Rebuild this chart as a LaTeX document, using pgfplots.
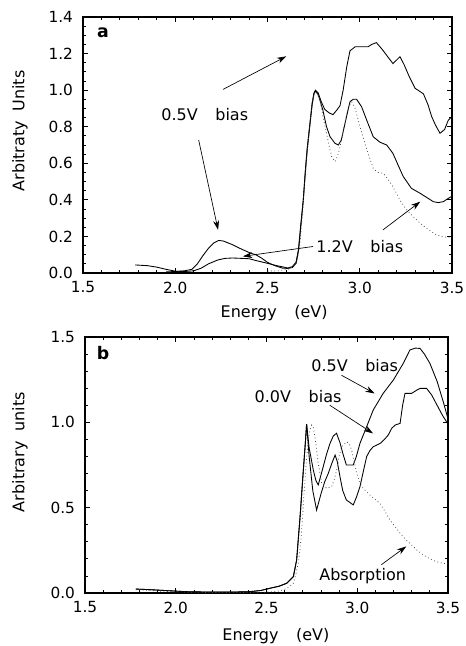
\documentclass[border=0pt]{standalone}
\usepackage{pgfplots}
\pgfplotsset{compat=1.18}
\usepackage{fontspec}
\setmainfont{DejaVu Sans}
\usetikzlibrary{arrows.meta}

\pgfplotstableread{
x y
1.95 0.006
2.00 0.008
2.05 0.012
2.09 0.02
2.12 0.05
2.15 0.095
2.18 0.135
2.21 0.165
2.235 0.178
2.26 0.175
2.29 0.163
2.31 0.155
2.35 0.135
2.40 0.112
2.44 0.098
2.47 0.08
2.50 0.058
2.54 0.04
2.58 0.027
2.61 0.025
2.635 0.03
2.655 0.053
2.668 0.12
2.68 0.25
2.694 0.40
2.705 0.56
2.715 0.68
2.73 0.82
2.742 0.93
2.752 0.985
2.76 1.0
2.775 0.985
2.79 0.94
2.81 0.895
2.835 0.875
2.855 0.866
2.875 0.89
2.893 0.915
2.91 1.0
2.93 1.13
2.947 1.215
2.975 1.237
3.01 1.237
3.045 1.237
3.065 1.25
3.09 1.26
3.12 1.225
3.15 1.185
3.18 1.145
3.2 1.165
3.218 1.183
3.24 1.14
3.27 1.07
3.30 1.01
3.345 0.98
3.37 0.92
3.39 0.855
3.41 0.81
3.435 0.764
3.46 0.785
3.48 0.836
3.5 0.855
}\aFive

\pgfplotstableread{
x y
1.782 0.044
1.85 0.04
1.90 0.032
1.95 0.02
2.00 0.01
2.05 0.008
2.10 0.012
2.14 0.026
2.18 0.05
2.23 0.071
2.27 0.08
2.31 0.082
2.36 0.08
2.40 0.078
2.45 0.065
2.50 0.053
2.55 0.04
2.585 0.033
2.61 0.027
2.635 0.035
2.655 0.06
2.668 0.13
2.68 0.26
2.694 0.40
2.705 0.55
2.715 0.67
2.73 0.81
2.742 0.92
2.752 0.98
2.76 0.995
2.775 0.975
2.80 0.891
2.82 0.80
2.839 0.745
2.866 0.709
2.884 0.70
2.90 0.727
2.925 0.84
2.947 0.937
2.965 0.95
2.983 0.95
3.01 0.909
3.04 0.83
3.073 0.745
3.11 0.715
3.146 0.70
3.18 0.654
3.21 0.585
3.236 0.527
3.28 0.463
3.327 0.436
3.36 0.415
3.399 0.39
3.425 0.385
3.453 0.39
3.475 0.405
3.5 0.42
}\aTwelve

\pgfplotstableread{
x y
2.50 0.01
2.56 0.012
2.61 0.02
2.64 0.035
2.66 0.07
2.675 0.15
2.69 0.33
2.705 0.53
2.72 0.72
2.735 0.87
2.748 0.96
2.758 0.99
2.77 0.98
2.785 0.946
2.80 0.86
2.82 0.764
2.835 0.69
2.848 0.636
2.866 0.609
2.88 0.64
2.893 0.69
2.915 0.80
2.938 0.909
2.956 0.937
2.975 0.9
2.992 0.836
3.01 0.77
3.028 0.709
3.05 0.64
3.073 0.572
3.1 0.55
3.128 0.545
3.155 0.51
3.18 0.472
3.218 0.399
3.25 0.35
3.29 0.308
3.33 0.27
3.363 0.244
3.39 0.225
3.417 0.208
3.45 0.198
3.48 0.195
3.5 0.195
}\aAbs

\pgfplotstableread{
x y
1.78 0.023
1.85 0.02
1.95 0.014
2.05 0.008
2.2 0.005
2.3 0.005
2.41 0.008
2.47 0.015
2.52 0.028
2.57 0.04
2.611 0.057
2.648 0.096
2.666 0.193
2.685 0.447
2.703 0.72
2.714 0.88
2.721 0.99
2.735 0.85
2.758 0.72
2.772 0.66
2.785 0.633
2.81 0.73
2.83 0.81
2.85 0.877
2.868 0.92
2.886 0.936
2.905 0.88
2.92 0.82
2.94 0.75
2.978 0.75
2.995 0.80
3.015 0.877
3.052 0.975
3.088 1.072
3.143 1.17
3.199 1.248
3.254 1.346
3.29 1.424
3.32 1.435
3.346 1.433
3.37 1.40
3.40 1.346
3.44 1.24
3.474 1.12
3.5 1.02
}\bFive

\pgfplotstableread{
x y
1.78 0.023
1.85 0.02
1.95 0.014
2.05 0.008
2.2 0.005
2.3 0.005
2.41 0.008
2.47 0.015
2.52 0.028
2.57 0.04
2.611 0.057
2.648 0.096
2.666 0.193
2.685 0.447
2.703 0.72
2.714 0.88
2.721 0.99
2.735 0.80
2.755 0.60
2.776 0.486
2.80 0.58
2.82 0.65
2.84 0.70
2.86 0.76
2.878 0.808
2.89 0.77
2.905 0.681
2.92 0.60
2.94 0.545
2.96 0.53
2.978 0.516
2.995 0.56
3.015 0.623
3.035 0.72
3.052 0.80
3.07 0.835
3.088 0.857
3.11 0.868
3.127 0.877
3.15 0.90
3.171 0.926
3.19 0.965
3.209 0.984
3.225 0.99
3.236 0.994
3.25 1.10
3.263 1.17
3.30 1.17
3.33 1.19
3.346 1.199
3.382 1.199
3.41 1.16
3.44 1.10
3.47 1.04
3.5 0.99
}\bZero

\pgfplotstableread{
x y
1.78 0.02
1.9 0.012
2.0 0.006
2.2 0.003
2.4 0.003
2.5 0.005
2.56 0.01
2.593 0.018
2.625 0.035
2.648 0.057
2.662 0.11
2.675 0.174
2.685 0.26
2.694 0.369
2.703 0.52
2.712 0.662
2.72 0.78
2.73 0.896
2.74 0.96
2.749 0.984
2.758 0.97
2.767 0.916
2.776 0.84
2.785 0.76
2.804 0.643
2.831 0.613
2.859 0.623
2.872 0.66
2.886 0.72
2.9 0.80
2.914 0.857
2.941 0.886
2.955 0.875
2.969 0.838
2.983 0.77
2.997 0.701
3.024 0.623
3.07 0.574
3.125 0.525
3.152 0.48
3.18 0.428
3.208 0.39
3.236 0.35
3.27 0.31
3.30 0.281
3.33 0.25
3.364 0.223
3.40 0.2
3.437 0.183
3.474 0.174
3.5 0.172
}\bAbs

\pgfplotsset{
  myax/.style={
    scale only axis,
    xmin=1.5, xmax=3.5, ymin=0,
    axis line style={line width=1.1pt},
    tick align=inside, tick pos=both,
    major tick length=4pt, minor tick length=2.5pt,
    every tick/.style={line width=0.6pt, black},
    xtick={1.5,2,2.5,3,3.5},
    minor x tick num=4,
    tick label style={font=\fontsize{11.5}{13}\selectfont},
    label style={font=\fontsize{12}{14}\selectfont},
    xticklabel style={yshift=-3pt},
    yticklabel style={xshift=-4pt},
    /pgf/number format/fixed,
    /pgf/number format/fixed zerofill,
    /pgf/number format/precision=1,
    /pgf/number format/assume math mode=true,
  },
  sol/.style={black, line width=0.65pt, no marks},
  dot/.style={black!70, line width=0.6pt, dotted, no marks},
}
\tikzset{ann/.style={-{Stealth[length=7pt,width=4.5pt]}, line width=0.5pt},
  lab/.style={font=\fontsize{12}{14}\selectfont}}

\begin{document}
\begin{tikzpicture}
\begin{axis}[myax,
  at={(62.25pt,279.75pt)}, anchor=south west,
  width=276.75pt, height=192pt,
  ymax=1.4,
  ytick={0,0.2,0.4,0.6,0.8,1.0,1.2,1.4},
  minor y tick num=3,
  xlabel={Energy\hspace{1.1em}(eV)},
  ylabel={Arbitraty\hspace{0.6em}Units},
  xlabel style={at={(axis description cs:0.518,-0.156)}, anchor=center},
  ylabel style={at={(axis description cs:-0.171,0.555)}, anchor=center},
]
\addplot[sol] table {\aFive};
\addplot[sol] table {\aTwelve};
\addplot[dot] table {\aAbs};
\node[font=\fontsize{13}{15}\selectfont\bfseries] at (axis cs:1.608,1.312) {a};
\node[lab] at (axis cs:2.16,0.867) {0.5V\hspace{1.1em}bias};
\draw[ann] (axis cs:2.259,1.004) -- (axis cs:2.602,1.185);
\draw[ann] (axis cs:2.127,0.727) -- (axis cs:2.232,0.236);
\node[lab] at (axis cs:3.0,0.145) {1.2V\hspace{1.1em}bias};
\draw[ann] (axis cs:2.747,0.145) -- (axis cs:2.367,0.091);
\draw[ann] (axis cs:3.126,0.236) -- (axis cs:3.328,0.39);
\end{axis}

\begin{axis}[myax,
  at={(63.75pt,39.75pt)}, anchor=south west,
  width=272.25pt, height=192pt,
  ymax=1.5,
  ytick={0,0.5,1.0,1.5},
  minor y tick num=4,
  xlabel={Energy\hspace{1.1em}(eV)},
  ylabel={Arbitrary\hspace{0.6em}units},
  xlabel style={at={(axis description cs:0.526,-0.17)}, anchor=center},
  ylabel style={at={(axis description cs:-0.179,0.55)}, anchor=center},
]
\addplot[sol] table {\bFive};
\addplot[sol] table {\bZero};
\addplot[dot] table {\bAbs};
\node[font=\fontsize{13}{15}\selectfont\bfseries] at (axis cs:1.599,1.406) {b};
\node[lab] at (axis cs:2.986,1.334) {0.5V\hspace{1.1em}bias};
\draw[ann] (axis cs:2.913,1.276) -- (axis cs:3.096,1.169);
\node[lab] at (axis cs:2.674,1.153) {0.0V\hspace{1.1em}bias};
\draw[ann] (axis cs:2.849,1.10) -- (axis cs:3.087,0.935);
\node[lab] at (axis cs:3.03,0.097) {Absorption};
\draw[ann] (axis cs:3.133,0.166) -- (axis cs:3.27,0.273);
\end{axis}
\pgfresetboundingbox
\useasboundingbox (0,0) rectangle (348.75pt,484.5pt);
\end{tikzpicture}
\end{document}
